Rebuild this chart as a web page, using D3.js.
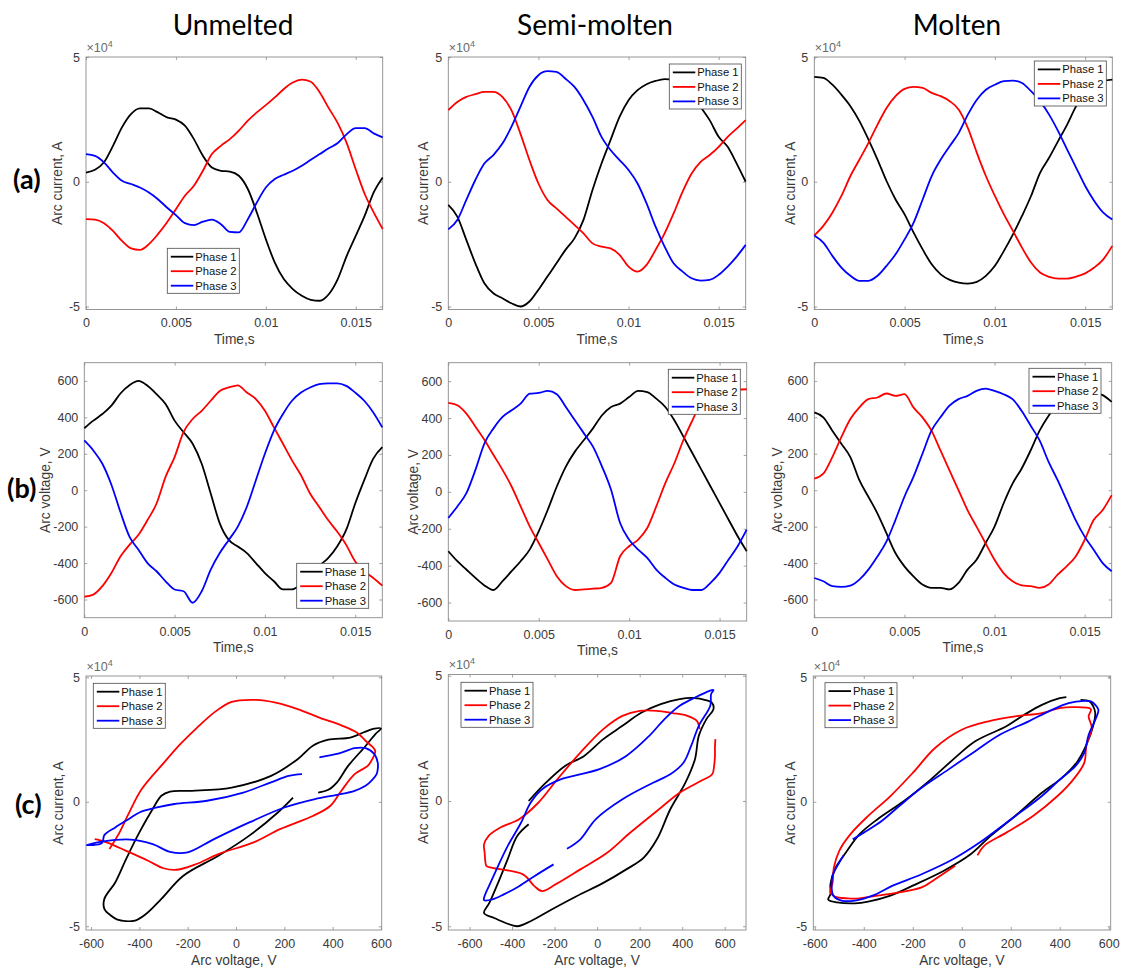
<!DOCTYPE html>
<html><head><meta charset="utf-8">
<script src="https://cdn.jsdelivr.net/npm/d3@7"></script>
<style>
body{margin:0;background:#fff;}
svg{display:block;font-family:"Liberation Sans",Arial,sans-serif;}
</style></head><body>
<svg id="chart" width="1125" height="971"></svg>
<script>
// ---------------- DATA ----------------
const time = [0,0.0005,0.001,0.0015,0.002,0.0025,0.003,0.0035,0.004,0.0045,0.005,0.0055,0.006,0.0065,0.007,0.0075,0.008,0.0085,0.009,0.0095,0.01,0.0105,0.011,0.0115,0.012,0.0125,0.013,0.0135,0.014,0.0145,0.015,0.0155,0.016,0.0165];

// Arc current (x1e4 A)
const curU1 = [0.37,0.48,0.78,1.44,2.18,2.71,2.94,2.94,2.78,2.58,2.49,2.25,1.71,1.04,0.57,0.44,0.41,0.24,-0.29,-1.23,-2.30,-3.24,-3.90,-4.30,-4.57,-4.73,-4.77,-4.51,-3.90,-2.97,-2.17,-1.36,-0.43,0.17];
const curU2 = [-1.50,-1.52,-1.66,-1.97,-2.37,-2.67,-2.73,-2.50,-2.10,-1.63,-1.10,-0.56,-0.16,0.44,1.11,1.44,1.71,2.05,2.45,2.78,3.07,3.38,3.72,3.98,4.09,4.01,3.58,2.95,2.35,1.55,0.50,-0.49,-1.23,-1.90];
const curU3 = [1.11,1.04,0.78,0.37,0.04,-0.09,-0.23,-0.43,-0.70,-1.03,-1.34,-1.66,-1.74,-1.60,-1.52,-1.70,-2.01,-2.03,-1.50,-0.83,-0.23,0.11,0.28,0.44,0.64,0.88,1.11,1.34,1.55,1.91,2.15,2.15,1.94,1.78];
const curS1 = [-0.93,-1.40,-2.33,-3.27,-4.07,-4.47,-4.67,-4.87,-5.00,-4.80,-4.33,-3.80,-3.27,-2.73,-2.27,-1.53,-0.33,0.73,1.67,2.60,3.27,3.67,3.91,4.04,4.11,4.07,3.87,3.53,3.00,2.47,1.80,1.40,0.73,0.00];
const curS2 = [2.87,3.20,3.40,3.51,3.60,3.60,3.40,2.87,1.93,0.87,-0.07,-0.73,-1.07,-1.40,-1.73,-2.07,-2.47,-2.60,-2.67,-2.93,-3.40,-3.60,-3.33,-2.73,-2.07,-1.27,-0.40,0.33,0.80,1.07,1.40,1.80,2.13,2.47];
const curS3 = [-1.91,-1.53,-0.73,0.07,0.73,1.07,1.53,2.20,3.00,3.80,4.27,4.43,4.40,4.13,3.80,3.27,2.60,1.80,1.27,0.87,0.47,-0.07,-0.87,-1.80,-2.60,-3.27,-3.60,-3.87,-3.96,-3.93,-3.73,-3.40,-3.00,-2.53];
const curM1 = [4.20,4.16,3.89,3.49,3.03,2.43,1.69,0.89,0.03,-0.71,-1.31,-2.04,-2.71,-3.31,-3.71,-3.93,-4.04,-4.08,-4.01,-3.77,-3.37,-2.77,-2.11,-1.37,-0.57,0.36,0.96,1.63,2.29,3.03,3.56,3.85,4.03,4.09];
const curM2 = [-2.15,-1.77,-1.24,-0.57,0.23,0.89,1.56,2.29,2.96,3.43,3.72,3.80,3.76,3.56,3.43,3.23,2.89,2.16,1.16,0.23,-0.57,-1.31,-1.97,-2.64,-3.24,-3.64,-3.81,-3.88,-3.88,-3.80,-3.67,-3.44,-3.11,-2.57];
const curM3 = [-2.15,-2.44,-2.97,-3.44,-3.77,-3.97,-3.97,-3.77,-3.37,-2.91,-2.31,-1.64,-0.71,0.23,0.89,1.43,1.96,2.69,3.29,3.69,3.89,4.03,4.05,3.96,3.63,3.23,2.69,2.03,1.29,0.56,-0.17,-0.77,-1.24,-1.51];

// Arc voltage (V)
const volU1 = [340,382,418,464,531,576,600,573,527,473,382,318,255,145,-18,-182,-273,-309,-345,-400,-455,-500,-545,-545,-518,-491,-418,-373,-309,-218,-73,55,173,236];
const volU2 = [-585,-573,-527,-455,-364,-300,-245,-164,-73,73,182,320,391,436,491,545,564,576,536,500,436,345,255,164,82,-18,-91,-164,-227,-300,-391,-445,-482,-524];
const volU3 = [273,218,145,30,-120,-255,-327,-400,-445,-500,-545,-555,-618,-555,-436,-345,-273,-200,-91,55,200,327,418,491,536,564,582,587,587,573,536,491,427,345];
const volS1 = [-322,-376,-421,-466,-507,-532,-484,-430,-376,-313,-214,-97,29,137,218,281,344,415,460,478,514,547,541,505,460,388,299,209,119,29,-61,-151,-241,-322];
const volS2 = [482,469,424,353,281,200,119,29,-79,-187,-277,-367,-457,-511,-532,-529,-525,-520,-493,-349,-295,-259,-196,-79,47,155,281,388,487,541,550,554,554,556];
const volS3 = [-142,-79,-7,119,263,344,406,442,478,532,536,547,529,460,388,317,245,137,11,-169,-259,-313,-358,-421,-466,-502,-520,-532,-532,-493,-439,-367,-295,-205];
const volM1 = [427,400,327,255,182,55,-36,-127,-236,-345,-418,-473,-518,-536,-536,-545,-509,-436,-382,-291,-200,-73,36,118,218,327,409,473,509,536,545,536,522,485];
const volM2 = [64,91,182,291,391,455,500,509,531,518,527,455,400,327,218,109,0,-109,-200,-291,-382,-455,-500,-522,-527,-536,-518,-464,-418,-364,-273,-164,-109,-27];
const volM3 = [-482,-500,-527,-531,-524,-491,-436,-364,-282,-164,-36,73,200,327,400,464,500,518,545,558,545,527,500,436,355,273,155,55,-55,-164,-255,-327,-400,-445];

const states = ["Unmelted","Semi-molten","Molten"];
const rowLabels = ["(a)","(b)","(c)"];
const phaseNames = ["Phase 1","Phase 2","Phase 3"];
const phaseColors = ["#000000","#ff0000","#0000ff"];
const timeTicks = [0,0.005,0.01,0.015];
const currentTicks = [-5,0,5];
const voltageTicks = [-600,-400,-200,0,200,400,600];

const currents = [[curU1,curU2,curU3],[curS1,curS2,curS3],[curM1,curM2,curM3]];
const voltages = [[volU1,volU2,volU3],[volS1,volS2,volS3],[volM1,volM2,volM3]];

// ---------------- LAYOUT ----------------
const svg = d3.select("#chart");
const boxes = [
  [[86,57,382.7,309.5],[448.3,57,745.7,309.5],[814.3,57,1112.3,309.5]],
  [[84.3,362.7,382.3,617.7],[448.3,362.7,746.7,621],[814.3,362.7,1111.7,617.7]],
  [[86,676,381.7,930],[448.3,674.5,746,930],[813.3,676,1110.7,930]]
];
const ylabOff = [[-29,-25,-24.5],[-39.3,-35.3,-37.6],[-27.7,-25,-23.3]];
const legendPos = [
  [[167.3,248.3],[669.3,64],[1034.3,61]],
  [[296.7,563.3],[668.3,369.3],[1029,368.3]],
  [[93.3,683.3],[461,682.3],[825,682.7]]
];
const cXDomains = [[-621,603],[-700,700],[-606,608]];
const textCol = "#3a3a3a", axisCol = "#8a8a8a";

// Titles
const titleX = [233,595,957];
states.forEach((s,i)=>{
  svg.append("text").attr("x",titleX[i]).attr("y",35).attr("text-anchor","middle")
    .style("font-family","Lato, 'Open Sans', sans-serif").style("font-size","28px").attr("fill","#000").text(s);
});
const rowLab = [[13,189.3],[7,498],[15,814.3]];
rowLabels.forEach((l,i)=>{
  svg.append("text").attr("x",rowLab[i][0]).attr("y",rowLab[i][1])
    .style("font-family","Lato, 'Open Sans', sans-serif").style("font-weight","bold").style("font-size","27px").attr("fill","#000").text(l);
});

let clipId = 0;
function panel(row, col) {
  const [x0,y0,x1,y1] = boxes[row][col];
  const w = x1-x0, h = y1-y0;
  const g = svg.append("g").attr("transform",`translate(${x0},${y0})`);
  let x, y, xTicks, yTicks, xFmt, xLabel, yLabel;
  if (row === 0) {
    x = d3.scaleLinear().domain([0,0.0165]).range([0,w]);
    y = d3.scaleLinear().domain([-5.12,5]).range([h,0]);
    xTicks = timeTicks; yTicks = currentTicks; xLabel = "Time,s"; yLabel = "Arc current, A";
  } else if (row === 1) {
    x = d3.scaleLinear().domain([0,0.0165]).range([0,w]);
    y = d3.scaleLinear().domain([-700,700]).range([h,0]);
    xTicks = timeTicks; yTicks = voltageTicks; xLabel = "Time,s"; yLabel = "Arc voltage, V";
  } else {
    x = d3.scaleLinear().domain(cXDomains[col]).range([0,w]);
    y = d3.scaleLinear().domain([-5.15,5.05]).range([h,0]);
    xTicks = voltageTicks; yTicks = currentTicks; xLabel = "Arc voltage, V"; yLabel = "Arc current, A";
  }
  const fmt = d => String(d);
  const styleAxis = sel => {
    sel.select(".domain").remove();
    sel.selectAll(".tick line").attr("stroke",axisCol).attr("stroke-width",0.8);
    sel.selectAll(".tick text").attr("fill",textCol).style("font-size","12.5px").style("font-family","'Liberation Sans', Arial, sans-serif");
  };
  g.append("g").attr("transform",`translate(0,${h})`)
    .call(d3.axisBottom(x).tickValues(xTicks).tickFormat(fmt).tickSizeInner(-3).tickSizeOuter(0).tickPadding(9)).call(styleAxis);
  g.append("g")
    .call(d3.axisTop(x).tickValues(xTicks).tickFormat("").tickSizeInner(-3).tickSizeOuter(0)).call(styleAxis);
  g.append("g")
    .call(d3.axisLeft(y).tickValues(yTicks).tickFormat(fmt).tickSizeInner(-3).tickSizeOuter(0).tickPadding(6)).call(styleAxis);
  g.append("g").attr("transform",`translate(${w},0)`)
    .call(d3.axisRight(y).tickValues(yTicks).tickFormat("").tickSizeInner(-3).tickSizeOuter(0)).call(styleAxis);
  g.append("rect").attr("width",w).attr("height",h).attr("fill","none").attr("stroke",axisCol).attr("stroke-width",0.9);

  const id = "clip"+(clipId++);
  g.append("clipPath").attr("id",id).append("rect").attr("x",-1).attr("y",-1).attr("width",w+2).attr("height",h+2);
  const plot = g.append("g").attr("clip-path",`url(#${id})`);

  for (let p=0;p<3;p++) {
    const cur = currents[col][p], vol = voltages[col][p];
    let line;
    if (row === 0) line = d3.line().x((d,i)=>x(time[i])).y(d=>y(d)).curve(d3.curveMonotoneX);
    else if (row === 1) line = d3.line().x((d,i)=>x(time[i])).y(d=>y(d)).curve(d3.curveMonotoneX);
    else line = d3.line().x((d,i)=>x(vol[i])).y((d,i)=>y(cur[i])).curve(d3.curveCatmullRom.alpha(0.5));
    const series = row === 1 ? vol : cur;
    plot.append("path").datum(series).attr("d",line).attr("fill","none")
      .attr("stroke",phaseColors[p]).attr("stroke-width",1.8).attr("stroke-linejoin","round");
  }

  // axis labels
  g.append("text").attr("x",w/2).attr("y",h+34.5).attr("text-anchor","middle")
    .attr("fill",textCol).style("font-size","13.75px").text(xLabel);
  g.append("text").attr("transform",`translate(${ylabOff[row][col]},${h/2}) rotate(-90)`)
    .attr("text-anchor","middle").attr("dy","0.35em")
    .attr("fill",textCol).style("font-size","13.75px").text(yLabel);

  // exponent label
  if (row !== 1) {
    const t = g.append("text").attr("x",0.5).attr("y",-5.5).attr("fill","#6a6a6a").style("font-size","12.5px");
    t.append("tspan").text("\u00d710");
    t.append("tspan").attr("dy",-5).style("font-size","9px").text("4");
  }

  // legend
  const [lx,ly] = legendPos[row][col];
  const lg = svg.append("g").attr("transform",`translate(${lx},${ly})`);
  lg.append("rect").attr("width",72).attr("height",45).attr("fill","#fff").attr("stroke","#4a4a4a").attr("stroke-width",0.8);
  phaseNames.forEach((n,i)=>{
    const yy = 8.4 + i*14.5;
    lg.append("line").attr("x1",3.5).attr("x2",26).attr("y1",yy).attr("y2",yy)
      .attr("stroke",phaseColors[i]).attr("stroke-width",1.8);
    lg.append("text").attr("x",28).attr("y",yy).attr("dy","0.36em").attr("fill","#111")
      .style("font-size","11.25px").text(n);
  });
}
for (let r=0;r<3;r++) for (let c=0;c<3;c++) panel(r,c);
</script>
</body></html>
